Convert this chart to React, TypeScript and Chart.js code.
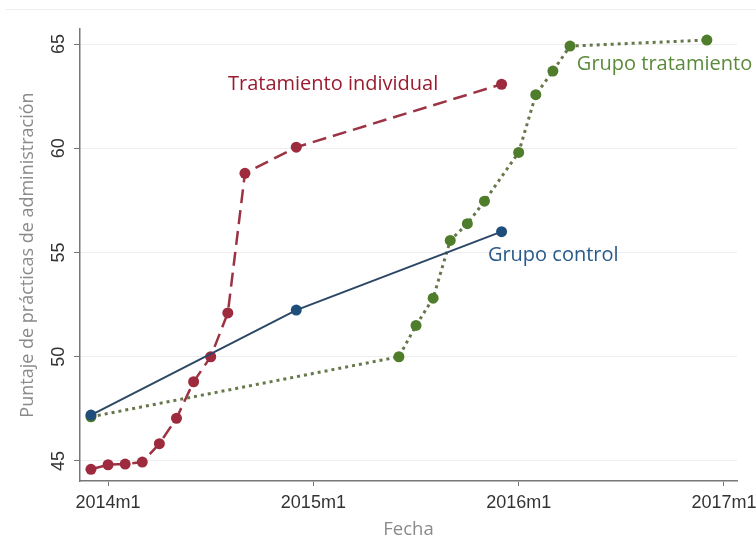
import React, { useEffect, useRef } from "react";
import { Chart, registerables } from "chart.js";

Chart.register(...registerables);

// months since 2014m1 (0 = 2014m1)
const indivMonths = [-1, 0, 1, 2, 3, 4, 5, 6, 7, 8, 11, 23];
const indivValues = [44.6, 44.82, 44.85, 44.95, 45.83, 47.05, 48.8, 50.0, 52.1, 58.8, 60.05, 63.07];

const controlMonths = [-1, 11, 23];
const controlValues = [47.2, 52.24, 56.0];

const treatMonths = [-1, 17, 18, 19, 20, 21, 22, 24, 25, 26, 27, 35];
const treatValues = [47.12, 50.0, 51.5, 52.81, 55.58, 56.38, 57.46, 59.8, 62.57, 63.7, 64.9, 65.19];

const xTickValues = [0, 12, 24, 36];
const xTickLabels = ["2014m1", "2015m1", "2016m1", "2017m1"];
const yTickValues = [45, 50, 55, 60, 65];

// series labels: [text, month, value, align, colour]
const seriesLabels: [string, number, number, CanvasTextAlign, string][] = [
  ["Tratamiento individual", 19.3, 63.07, "right", "#9b1c31"],
  ["Grupo tratamiento", 27.4, 64.04, "left", "#5a8a3a"],
  ["Grupo control", 22.2, 54.86, "left", "#2a5a8a"],
];

const toPts = (xs: number[], ys: number[]) => xs.map((x, i) => ({ x, y: ys[i] }));

export default function App() {
  const ref = useRef<HTMLCanvasElement | null>(null);
  useEffect(() => {
    if (!ref.current) return;
    const labelsPlugin = {
      id: "extraText",
      afterDraw(chart: any) {
        const ctx = chart.ctx;
        const xs = chart.scales.x;
        const ys = chart.scales.y;
        ctx.save();
        // rotated y tick labels
        ctx.font = '18px "Liberation Sans", Arial, sans-serif';
        ctx.fillStyle = "#333";
        ctx.textAlign = "center";
        ctx.textBaseline = "middle";
        yTickValues.forEach((v) => {
          const py = ys.getPixelForValue(v);
          ctx.save();
          ctx.translate(chart.chartArea.left - 21, py);
          ctx.rotate(-Math.PI / 2);
          ctx.fillText(String(v), 0, 0);
          ctx.restore();
        });
        // series labels
        ctx.font = '20px "Open Sans", sans-serif';
        seriesLabels.forEach(([t, mx, vy, al, col]) => {
          ctx.fillStyle = col;
          ctx.textAlign = al;
          ctx.textBaseline = "middle";
          ctx.fillText(t, xs.getPixelForValue(mx), ys.getPixelForValue(vy));
        });
        // faint outer frame line
        ctx.strokeStyle = "#ededed";
        ctx.lineWidth = 1;
        ctx.beginPath();
        ctx.moveTo(6, 9.5);
        ctx.lineTo(756, 9.5);
        ctx.stroke();
        ctx.restore();
      },
    };
    const chart = new Chart(ref.current, {
      type: "scatter",
      data: {
        datasets: [
          {
            label: "Grupo control",
            data: toPts(controlMonths, controlValues),
            showLine: true,
            borderColor: "#2c4766",
            borderWidth: 2,
            pointRadius: 5.5,
            pointBackgroundColor: "#1f4e7a",
            pointBorderWidth: 0,
          },
          {
            label: "Grupo tratamiento",
            data: toPts(treatMonths, treatValues),
            showLine: true,
            borderColor: "#66784a",
            borderWidth: 3,
            borderDash: [3, 4],
            pointRadius: 5.5,
            pointBackgroundColor: "#4f7d2c",
            pointBorderWidth: 0,
          },
          {
            label: "Tratamiento individual",
            data: toPts(indivMonths, indivValues),
            showLine: true,
            borderColor: "#9c3344",
            borderWidth: 2.5,
            borderDash: [14, 7],
            pointRadius: 5.5,
            pointBackgroundColor: "#9e2b3d",
            pointBorderWidth: 0,
          },
        ],
      },
      options: {
        responsive: false,
        animation: false,
        layout: { padding: { top: 29, right: 19, left: 0, bottom: 0 } },
        plugins: { legend: { display: false }, tooltip: { enabled: false } },
        scales: {
          x: {
            type: "linear",
            min: -1.64,
            max: 36.76,
            afterBuildTicks: (s: any) => {
              s.ticks = xTickValues.map((v) => ({ value: v }));
            },
            afterFit: (s: any) => {
              s.height = 61;
              s.paddingLeft = 0;
              s.paddingRight = 0;
            },
            ticks: {
              autoSkip: false,
              maxRotation: 0,
              minRotation: 0,
              padding: 6,
              color: "#333",
              font: { size: 18, family: '"Liberation Sans", Arial, sans-serif' },
              callback: (v: any) => {
                const i = xTickValues.indexOf(Number(v));
                return i >= 0 ? xTickLabels[i] : "";
              },
            },
            grid: { drawOnChartArea: false, drawTicks: true, tickLength: 5, tickColor: "#777" },
            border: { color: "#777", width: 1.5 },
            title: {
              display: true,
              text: "Fecha",
              color: "#8a8a8a",
              font: { size: 18.5, family: '"Open Sans", sans-serif' },
              padding: { top: 0, bottom: 1 },
            },
          },
          y: {
            type: "linear",
            min: 44.04,
            max: 65.72,
            afterBuildTicks: (s: any) => {
              s.ticks = yTickValues.map((v) => ({ value: v }));
            },
            afterFit: (s: any) => {
              s.width = 80;
              s.paddingTop = 0;
              s.paddingBottom = 0;
            },
            ticks: { display: false },
            grid: { color: "#eeeeee", lineWidth: 1, drawTicks: true, tickLength: 6, tickColor: "#777" },
            border: { color: "#777", width: 1.5 },
            title: {
              display: true,
              text: "Puntaje de prácticas de administración",
              color: "#8a8a8a",
              font: { size: 18, family: '"Open Sans", sans-serif' },
              padding: { top: 17, bottom: 0 },
            },
          },
        },
      },
      plugins: [labelsPlugin],
    } as any);
    return () => chart.destroy();
  }, []);
  return (
    <div style={{ position: "absolute", left: 0, top: 0, width: 756, height: 542, background: "#fff" }}>
      <canvas ref={ref} width={756} height={542} />
    </div>
  );
}
